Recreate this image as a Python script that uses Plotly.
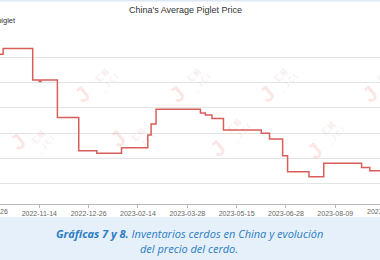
import plotly.graph_objects as go

# ---- data ----
tick_labels = ["2022-09-26", "2022-11-14", "2022-12-26", "2023-02-14", "2023-03-28",
               "2023-05-15", "2023-06-28", "2023-08-09", "2023-09-20"]
tick_step = 30  # trading sessions between labelled ticks

step_session = [0, 8, 26, 30, 31, 41, 54, 65, 80, 96, 98, 101, 128, 131, 135, 142,
                165, 170, 178, 181, 194, 203, 226, 231, 240]
step_price = [812, 835, 710, 704, 710, 561, 430, 420, 442, 492, 536, 594, 579, 571, 558, 512,
              499, 476, 410, 347, 327, 380, 364, 351, 351]

y_ticks = [300, 400, 500, 600, 700, 800, 900]

# ---- layout geometry ----
W, H = 380, 260
T, B = 32, 56
PLOT_BOTTOM = H - B
PLOT_H = H - T - B


def px_x(p):
    return p / W


def px_y(p):
    return (PLOT_BOTTOM - p) / PLOT_H


tick_vals = [i * tick_step for i in range(len(tick_labels))]
x_range = [6.1, 237.2]

fig = go.Figure()
fig.add_trace(go.Scatter(
    x=step_session, y=step_price, mode="lines", line_shape="hv",
    line=dict(color="#d85e5a", width=1.5), showlegend=False, hoverinfo="skip"))

fig.update_layout(
    width=W, height=H,
    margin=dict(l=0, r=0, t=T, b=B),
    paper_bgcolor="white", plot_bgcolor="white",
    font=dict(family="Liberation Sans, Arial, sans-serif", color="#555"),
    title=dict(text="China's Average Piglet Price", x=185.5 / W, xanchor="center",
               y=1 - 10 / H, yanchor="middle",
               font=dict(size=9, color="#333", family="Liberation Sans, Arial, sans-serif")),
    xaxis=dict(range=x_range, tickvals=tick_vals[1:-1], ticktext=tick_labels[1:-1],
               showgrid=False, zeroline=False, showline=True, linecolor="#b8b8b8",
               ticks="outside", ticklen=3, tickcolor="#b8b8b8",
               tickfont=dict(size=7, color="#666")),
    yaxis=dict(range=[219, 900], tickvals=y_ticks, showticklabels=False,
               showgrid=True, gridcolor="#e4e4e4", gridwidth=1, zeroline=False,
               showline=False, ticks=""),
)

# edge tick labels that sit partly outside the crop
for idx in (0, len(tick_labels) - 1):
    pix = 39.3 + (tick_vals[idx] - 30) * 1.644
    fig.add_annotation(text=tick_labels[idx], x=px_x(pix), y=px_y(211.7), xref="paper", yref="paper",
                       xanchor="center", yanchor="middle", showarrow=False,
                       font=dict(size=7, color="#666"))

# unit label (cut on the left)
fig.add_annotation(text="Yuan/piglet", x=px_x(17.5), y=px_y(20), xref="paper", yref="paper",
                   xanchor="right", yanchor="middle", showarrow=False,
                   font=dict(size=7.5, color="#333"))

# watermarks
marks = [(67, 78), (177, 78), (282, 78), (385, 78), (3, 158), (103, 155), (218, 165), (330, 168)]
for mx, my in marks:
    fig.add_annotation(text="<b>J</b>", x=px_x(mx), y=px_y(my), xref="paper", yref="paper",
                       showarrow=False, textangle=-40,
                       font=dict(size=22, color="rgba(235,90,90,0.16)"))
    fig.add_annotation(text="汇易<br>_ J C I", x=px_x(mx + 20), y=px_y(my - 18), xref="paper",
                       yref="paper", showarrow=False, textangle=-45,
                       font=dict(size=8, color="rgba(200,120,120,0.2)",
                                 family="Noto Sans CJK SC, sans-serif"))

# caption band + top strip
fig.add_shape(type="rect", xref="paper", yref="paper", x0=0, x1=1,
              y0=px_y(217), y1=px_y(H), fillcolor="#e6f0fa", line_width=0, layer="below")
fig.add_shape(type="rect", xref="paper", yref="paper", x0=0, x1=1,
              y0=px_y(0), y1=px_y(1.5), fillcolor="#dde9f6", line_width=0, layer="below")

cap_font = dict(size=11, color="#2a7cc4", family="Open Sans, Noto Sans, sans-serif")
fig.add_annotation(text="<b><i>Gráficas 7 y 8.</i></b><i> Inventarios cerdos en China y evolución</i>",
                   x=px_x(189), y=px_y(233), xref="paper", yref="paper", showarrow=False,
                   xanchor="center", yanchor="middle", font=cap_font)
fig.add_annotation(text="<i>del precio del cerdo.</i>",
                   x=px_x(189), y=px_y(248), xref="paper", yref="paper", showarrow=False,
                   xanchor="center", yanchor="middle", font=cap_font)

fig.write_html("out.html")
